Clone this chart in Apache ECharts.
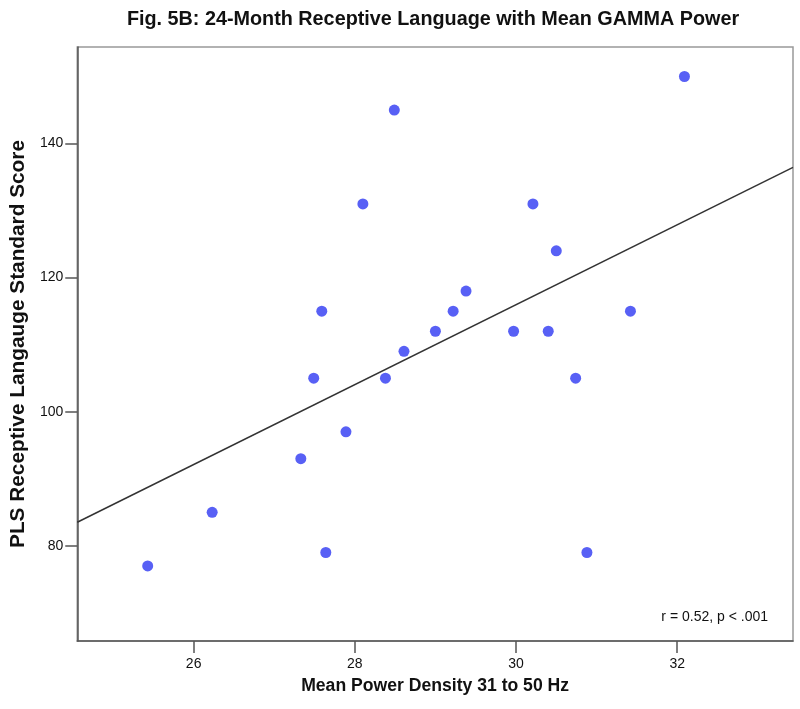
<!DOCTYPE html>
<html>
<head>
<meta charset="utf-8">
<script src="https://cdn.jsdelivr.net/npm/echarts@6/dist/echarts.min.js"></script>
<style>
html,body{margin:0;padding:0;background:#fff;}
#chart{width:800px;height:709px;}
</style>
</head>
<body>
<div id="chart"></div>
<script>
// Mean power density 31-50 Hz (x) and PLS receptive language standard score (y)
const powerDensity = [25.43, 26.23, 27.33, 27.64, 27.49, 27.59, 27.89, 28.10, 28.49, 28.38, 28.61, 29.00, 29.22, 29.38, 29.97, 30.21, 30.50, 30.40, 30.74, 30.88, 31.42, 32.09];
const plsScore     = [77,    85,    93,    79,    105,   115,   97,    131,   145,   105,   109,   112,   115,   118,   112,   131,   124,   112,   105,   79,    115,   150];
const xTicks = [26, 28, 30, 32];
const yTicks = [80, 100, 120, 140];
const xRange = [24.556, 33.437];
const yRange = [65.8, 154.4];
const titleText = 'Fig. 5B: 24-Month Receptive Language with Mean GAMMA Power';
const xName = 'Mean Power Density 31 to 50 Hz';
const yName = 'PLS Receptive Langauge Standard Score';
const statText = 'r = 0.52, p < .001';

// least-squares fit line
const n = powerDensity.length;
const mx = powerDensity.reduce((a, b) => a + b, 0) / n;
const my = plsScore.reduce((a, b) => a + b, 0) / n;
let sxy = 0, sxx = 0;
for (let i = 0; i < n; i++) { sxy += (powerDensity[i] - mx) * (plsScore[i] - my); sxx += (powerDensity[i] - mx) ** 2; }
const slope = sxy / sxx, intercept = my - slope * mx;
const fitData = xRange.map(x => [x, intercept + slope * x]);
const points = powerDensity.map((x, i) => [x, plsScore[i]]);

const font = '"Liberation Sans", Arial, sans-serif';
const chart = echarts.init(document.getElementById('chart'), null, {renderer: 'canvas'});
chart.setOption({
  animation: false,
  backgroundColor: '#fff',
  title: [
    {text: titleText, left: 428, top: 5, textAlign: 'center',
     textStyle: {fontFamily: font, fontSize: 19.8, fontWeight: 'bold', color: '#111'}},
    {text: statText, right: 27, top: 605,
     textStyle: {fontFamily: font, fontSize: 14, fontWeight: 'normal', color: '#111'}}
  ],
  grid: {left: 66, right: 7, top: 47, bottom: 68, show: true, borderColor: '#999', borderWidth: 1.5, containLabel: false},
  xAxis: {
    type: 'value', min: xRange[0], max: xRange[1],
    name: xName, nameLocation: 'middle', nameGap: 36,
    nameTextStyle: {fontFamily: font, fontSize: 17.6, fontWeight: 'bold', color: '#111'},
    axisLine: {show: true, lineStyle: {color: '#555', width: 1.5}},
    axisTick: {show: true, length: 12, lineStyle: {color: '#555', width: 1.5}, customValues: xTicks},
    axisLabel: {fontFamily: font, fontSize: 14, color: '#111', margin: 16, customValues: xTicks},
    splitLine: {show: false}
  },
  yAxis: {
    type: 'value', min: yRange[0], max: yRange[1],
    name: yName, nameLocation: 'middle', nameGap: 42,
    nameTextStyle: {fontFamily: font, fontSize: 20.8, fontWeight: 'bold', color: '#111'},
    axisLine: {show: true, lineStyle: {color: '#555', width: 1.5}},
    axisTick: {show: true, length: 12, lineStyle: {color: '#555', width: 1.5}, customValues: yTicks},
    axisLabel: {fontFamily: font, fontSize: 14, color: '#111', margin: 14, customValues: yTicks},
    splitLine: {show: false}
  },
  series: [
    {type: 'line', data: fitData, symbol: 'none', silent: true,
     lineStyle: {color: '#333', width: 1.5}, z: 1},
    {type: 'scatter', data: points, symbol: 'circle', symbolSize: 11,
     itemStyle: {color: '#5860f5', opacity: 1}, z: 2}
  ]
});
</script>
</body>
</html>
